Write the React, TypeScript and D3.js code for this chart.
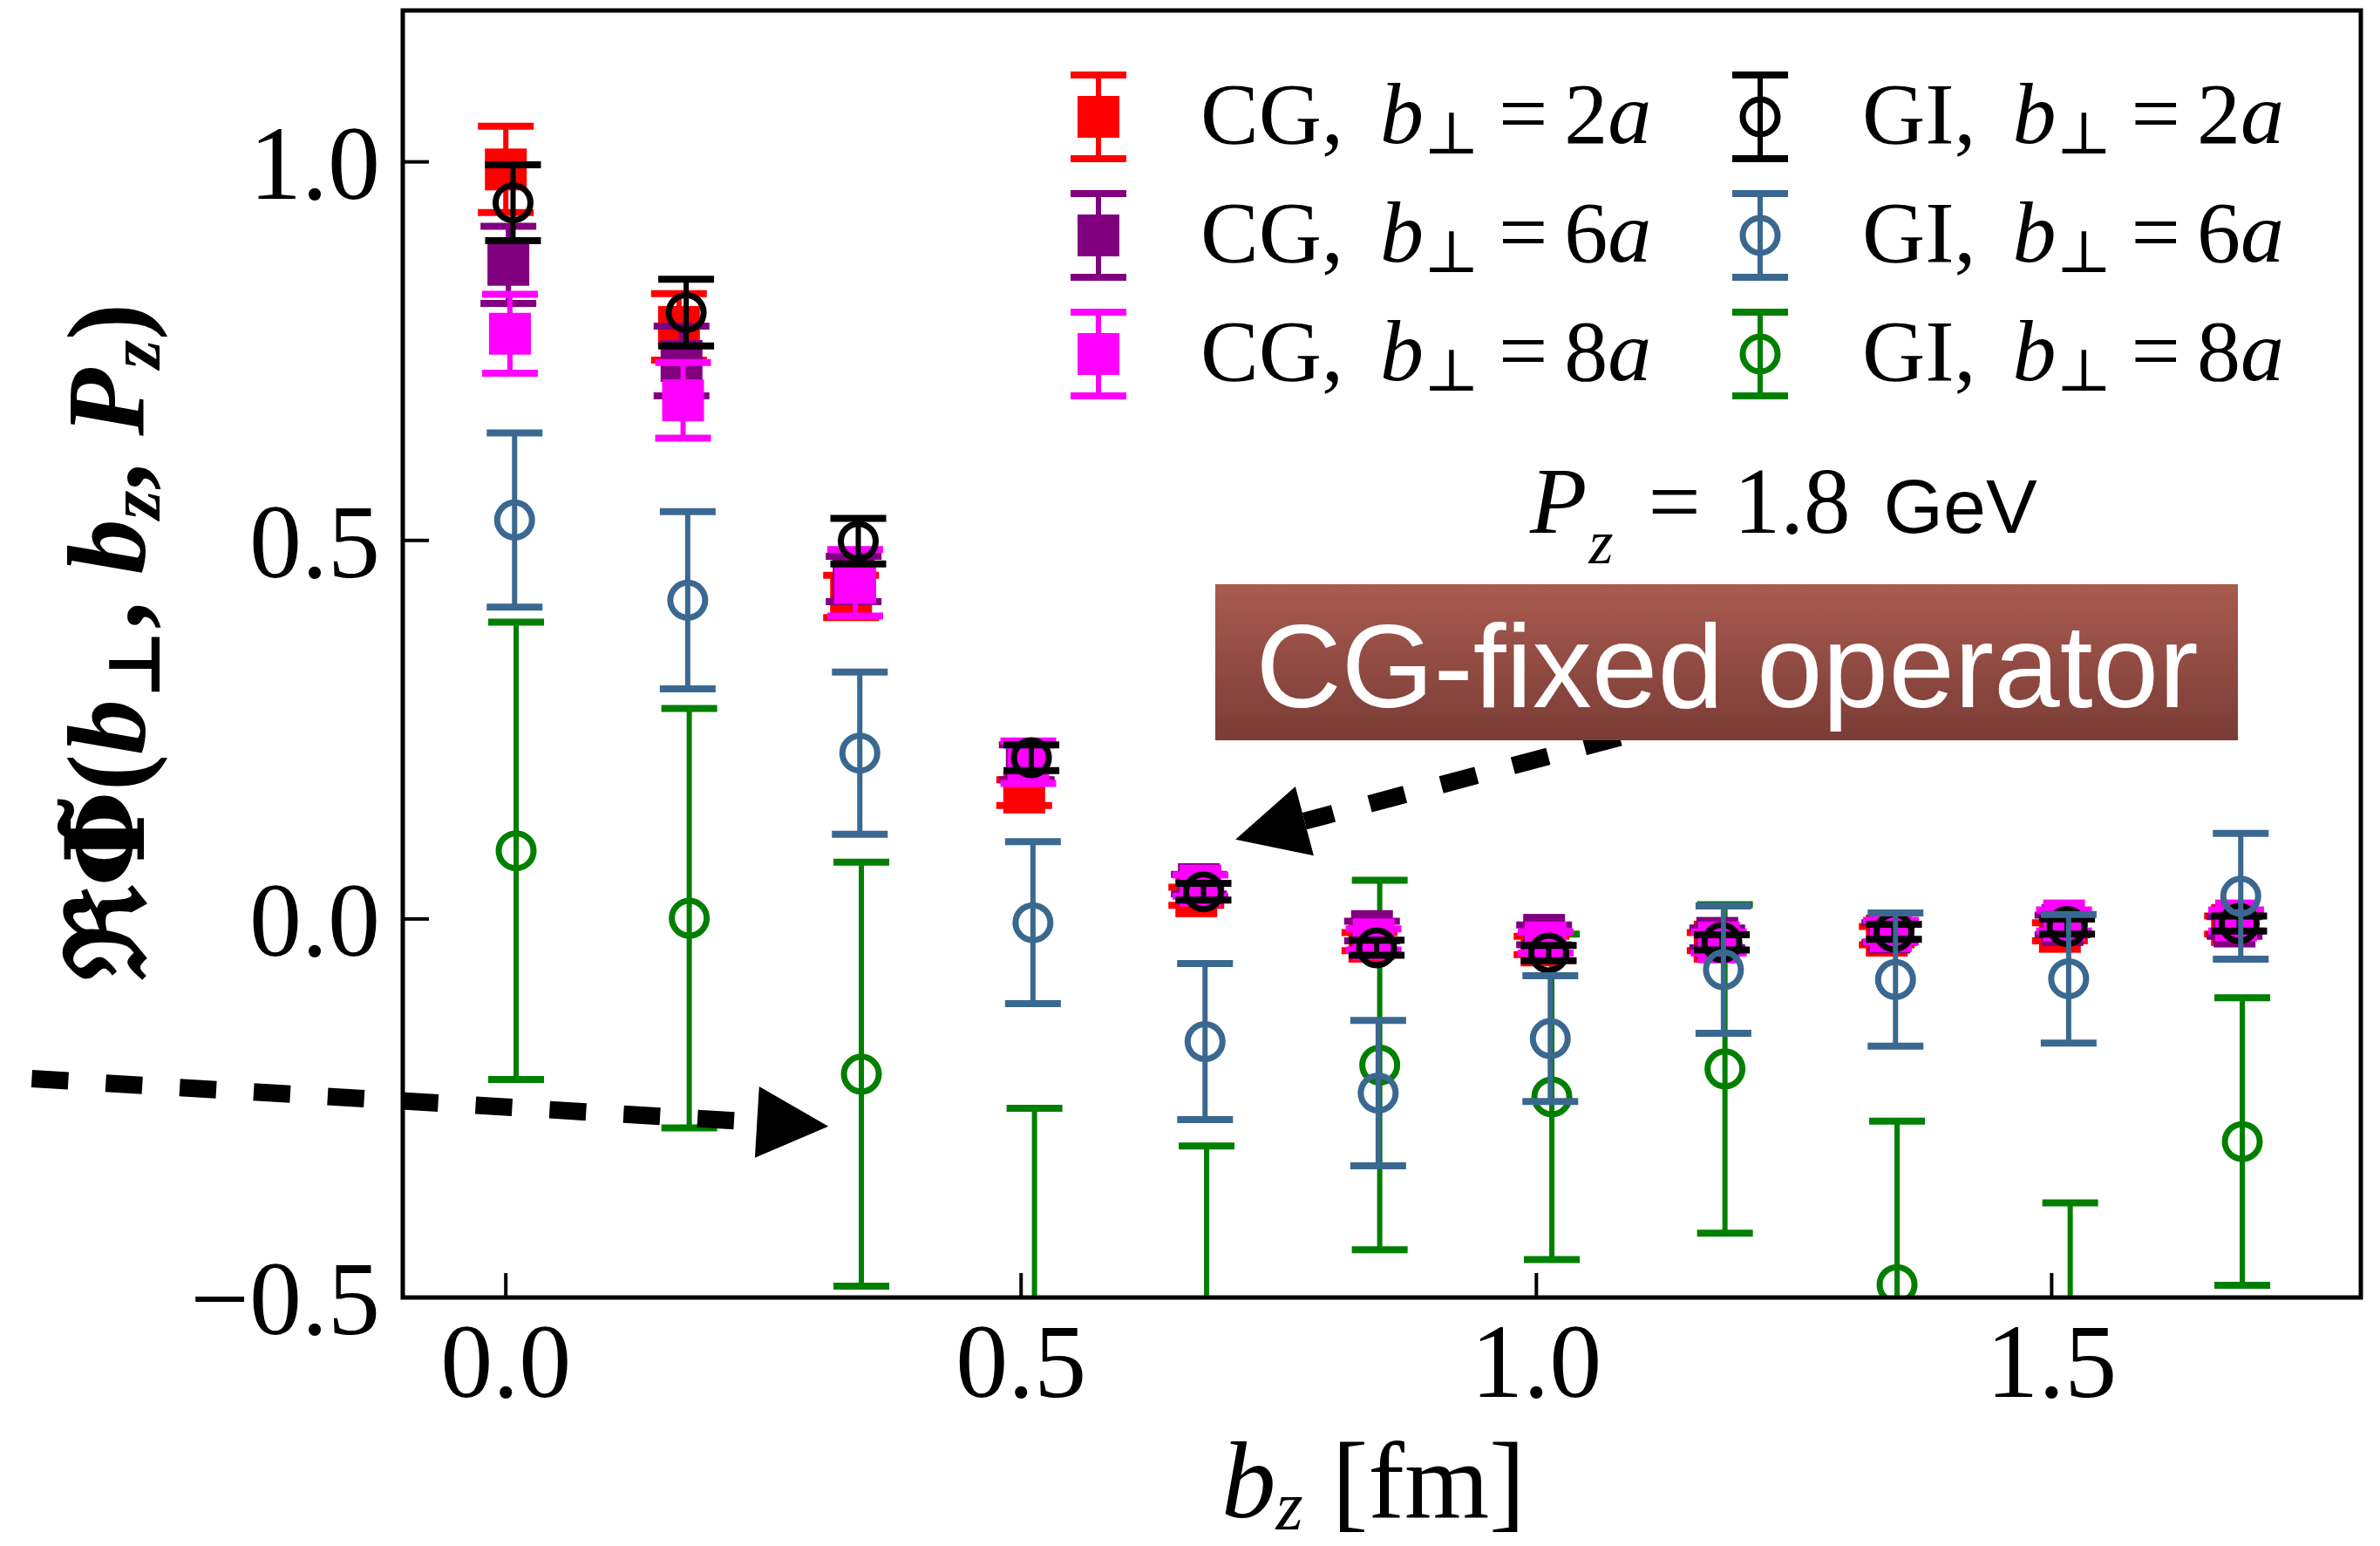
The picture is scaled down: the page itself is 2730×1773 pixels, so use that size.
import React from 'react'
import * as d3 from 'd3'

const W = 2730
const H = 1773

// b_z positions [fm]
const bz = [0, 0.168, 0.335, 0.503, 0.67, 0.838, 1.005, 1.173, 1.34, 1.508, 1.675]

// CG-fixed operator
const cg2 = [0.99, 0.782, 0.426, 0.167, 0.03, -0.03, -0.035, -0.03, -0.022, -0.017, -0.008]
const cg2Err = [0.057, 0.044, 0.028, 0.017, 0.012, 0.012, 0.012, 0.012, 0.012, 0.012, 0.012]
const cg6 = [0.864, 0.737, 0.449, 0.207, 0.046, -0.016, -0.021, -0.025, -0.018, -0.008, -0.01]
const cg6Err = [0.051, 0.046, 0.03, 0.023, 0.013, 0.013, 0.013, 0.013, 0.013, 0.013, 0.013]
const cg8 = [0.773, 0.685, 0.444, 0.207, 0.044, -0.027, -0.031, -0.031, -0.016, -0.002, -0.002]
const cg8Err = [0.052, 0.05, 0.044, 0.028, 0.014, 0.014, 0.014, 0.014, 0.014, 0.014, 0.014]

// gauge invariant operator
const gi2 = [0.946, 0.801, 0.499, 0.213, 0.036, -0.038, -0.045, -0.031, -0.017, -0.01, -0.006]
const gi2Err = [0.05, 0.044, 0.03, 0.017, 0.011, 0.01, 0.01, 0.01, 0.01, 0.01, 0.01]
const gi6 = [0.527, 0.421, 0.219, -0.005, -0.162, -0.23, -0.158, -0.067, -0.08, -0.079, 0.03]
const gi6Err = [0.115, 0.117, 0.107, 0.107, 0.103, 0.096, 0.083, 0.084, 0.088, 0.085, 0.083]
const gi8 = [0.09, 0.001, -0.205, -0.56, -0.6, -0.193, -0.235, -0.198, -0.483, -0.6, -0.294]
const gi8Err = [0.302, 0.277, 0.28, 0.31, 0.3, 0.244, 0.215, 0.217, 0.216, 0.225, 0.19]

const xTicks = [0, 0.5, 1.0, 1.5]
const xTickLabels = ['0.0', '0.5', '1.0', '1.5']
const yTicks = [-0.5, 0, 0.5, 1.0]
const yTickLabels = ['\u22120.5', '0.0', '0.5', '1.0']

type Marker = 'square' | 'circle'
type Series = {
  op: string
  bperp: string
  values: number[]
  errs: number[]
  color: string
  marker: Marker
  shift: number
}

const series: Series[] = [
  { op: 'CG,', bperp: '2', values: cg2, errs: cg2Err, color: '#ff0000', marker: 'square', shift: 0 },
  { op: 'CG,', bperp: '6', values: cg6, errs: cg6Err, color: '#800080', marker: 'square', shift: 0.0025 },
  { op: 'CG,', bperp: '8', values: cg8, errs: cg8Err, color: '#ff00ff', marker: 'square', shift: 0.004 },
  { op: 'GI,', bperp: '2', values: gi2, errs: gi2Err, color: '#000000', marker: 'circle', shift: 0.007 },
  { op: 'GI,', bperp: '6', values: gi6, errs: gi6Err, color: '#3a6890', marker: 'circle', shift: 0.0085 },
  { op: 'GI,', bperp: '8', values: gi8, errs: gi8Err, color: '#007f00', marker: 'circle', shift: 0.01 },
]
// drawing order seen in the figure: green at the back, blue on top
const drawOrder = [5, 0, 1, 2, 3, 4]

const serif = '"Liberation Serif", "DejaVu Serif", serif'
const sans = '"Liberation Sans", Arial, sans-serif'

const x = d3.scaleLinear().domain([-0.1, 1.8]).range([462, 2708])
const y = d3.scaleLinear().domain([-0.5, 1.2]).range([1488, 12])

function ErrPoint({ cx, cy, lo, hi, color, marker }: { cx: number; cy: number; lo: number; hi: number; color: string; marker: Marker }) {
  return (
    <g>
      <line x1={cx} x2={cx} y1={lo} y2={hi} stroke={color} strokeWidth={6} />
      <line x1={cx - 32} x2={cx + 32} y1={lo} y2={lo} stroke={color} strokeWidth={8} />
      <line x1={cx - 32} x2={cx + 32} y1={hi} y2={hi} stroke={color} strokeWidth={8} />
      {marker === 'square'
        ? <rect x={cx - 24} y={cy - 24} width={48} height={48} fill={color} />
        : <circle cx={cx} cy={cy} r={20} fill="none" stroke={color} strokeWidth={7} />}
    </g>
  )
}

function Arrow({ from, to }: { from: [number, number]; to: [number, number] }) {
  const x0 = x(from[0]), y0 = y(from[1])
  const x1 = x(to[0]), y1 = y(to[1])
  const len = Math.hypot(x1 - x0, y1 - y0)
  const ux = (x1 - x0) / len, uy = (y1 - y0) / len
  const headL = 82, headW = 41
  const bx = x1 - ux * headL, by = y1 - uy * headL
  const pts = [
    [x1, y1],
    [bx - uy * headW, by + ux * headW],
    [bx + uy * headW, by - ux * headW],
  ].map(p => p.join(',')).join(' ')
  return (
    <g>
      <line x1={x0} y1={y0} x2={bx} y2={by} stroke="#000" strokeWidth={20} strokeDasharray="42 43" />
      <polygon points={pts} fill="#000" />
    </g>
  )
}

export default function App() {
  const [x0, x1] = x.range()
  const [y0, y1] = y.range()

  const legendCols = [1260, 2019]
  const legendRows = [134, 270, 406]

  return (
    <svg width={W} height={H} style={{ position: 'absolute', left: 0, top: 0, background: '#fff' }}>
      <defs>
        <clipPath id="plot">
          <rect x={x0} y={y1} width={x1 - x0} height={y0 - y1} />
        </clipPath>
        <linearGradient id="boxgrad" x1="0" y1="0" x2="0" y2="1">
          <stop offset="0" stopColor="#a95b50" />
          <stop offset="1" stopColor="#7a3c35" />
        </linearGradient>
      </defs>
      <rect width={W} height={H} fill="#fff" />

      {/* data */}
      <g clipPath="url(#plot)">
        {drawOrder.map(si => {
          const s = series[si]
          return (
            <g key={si}>
              {s.values.map((v, i) => (
                <ErrPoint
                  key={i}
                  cx={x(bz[i] + s.shift)}
                  cy={y(v)}
                  lo={y(v - s.errs[i])}
                  hi={y(v + s.errs[i])}
                  color={s.color}
                  marker={s.marker}
                />
              ))}
            </g>
          )
        })}
      </g>

      {/* frame */}
      <rect x={x0} y={y1} width={x1 - x0} height={y0 - y1} fill="none" stroke="#000" strokeWidth={5} />

      {/* ticks */}
      {xTicks.map((t, i) => (
        <g key={'xt' + i}>
          <line x1={x(t)} x2={x(t)} y1={y0} y2={y0 - 28} stroke="#000" strokeWidth={4} />
          <text x={x(t)} y={1602} fontFamily={serif} fontSize={120} textAnchor="middle">{xTickLabels[i]}</text>
        </g>
      ))}
      {yTicks.map((t, i) => (
        <g key={'yt' + i}>
          <line x1={x0} x2={x0 + 30} y1={y(t)} y2={y(t)} stroke="#000" strokeWidth={4} />
          <text x={436} y={y(t) + 42} fontFamily={serif} fontSize={120} textAnchor="end">{yTickLabels[i]}</text>
        </g>
      ))}

      {/* axis labels */}
      <text x={1401} y={1740} fontFamily={serif} fontSize={125}>
        <tspan fontStyle="italic">b</tspan>
        <tspan fontStyle="italic" fontSize={80} dy={14}>z</tspan>
        <tspan dy={-14} dx={33}>[fm]</tspan>
      </text>
      <text transform="translate(165,736) rotate(-90)" fontFamily={serif} fontSize={126} fontWeight="bold" textAnchor="middle">
        <tspan>{'\u211C'}</tspan>
        <tspan fontFamily='"DejaVu Serif", serif'>{'\u03A6\u0303'}</tspan>
        <tspan>(</tspan>
        <tspan fontStyle="italic">b</tspan>
        <tspan fontSize={84} dy={18}>{'\u22A5'}</tspan>
        <tspan dy={-18}>, </tspan>
        <tspan fontStyle="italic">b</tspan>
        <tspan fontStyle="italic" fontSize={84} dy={18}>z</tspan>
        <tspan dy={-18}>, </tspan>
        <tspan fontStyle="italic">P</tspan>
        <tspan fontStyle="italic" fontSize={84} dy={18}>z</tspan>
        <tspan dy={-18}>)</tspan>
      </text>

      {/* legend */}
      {series.map((s, i) => {
        const cx = legendCols[Math.floor(i / 3)]
        const cy = legendRows[i % 3]
        return (
          <g key={'lg' + i}>
            <ErrPoint cx={cx} cy={cy} lo={cy + 48} hi={cy - 48} color={s.color} marker={s.marker} />
            <text x={cx + 117} y={cy + 30} fontFamily={serif} fontSize={100}>
              <tspan>{s.op}</tspan>
              <tspan dx={42} fontStyle="italic">b</tspan>
              <tspan fontSize={68} dy={12}>{'\u22A5'}</tspan>
              <tspan dy={-12} dx={22}>=</tspan>
              <tspan dx={19}>{s.bperp}</tspan>
              <tspan fontStyle="italic">a</tspan>
            </text>
          </g>
        )
      })}

      {/* P_z annotation */}
      <text x={1755} y={611} fontFamily={serif} fontSize={107}>
        <tspan fontStyle="italic">P</tspan>
        <tspan fontStyle="italic" fontSize={72} dy={35} dx={2}>z</tspan>
        <tspan dy={-35} dx={40}>=</tspan>
        <tspan dx={38}>1.8</tspan>
        <tspan dx={38} fontFamily={sans} fontSize={88}>GeV</tspan>
      </text>

      {/* arrows */}
      <Arrow from={[-0.46, -0.211]} to={[0.313, -0.274]} />
      <Arrow from={[1.081, 0.24]} to={[0.708, 0.105]} />

      {/* CG-fixed operator box */}
      <rect x={1394} y={670} width={1173} height={179} fill="url(#boxgrad)" />
      <text x={1981} y={811} fontFamily={sans} fontSize={136} fill="#fff" textAnchor="middle">CG-fixed operator</text>
    </svg>
  )
}
